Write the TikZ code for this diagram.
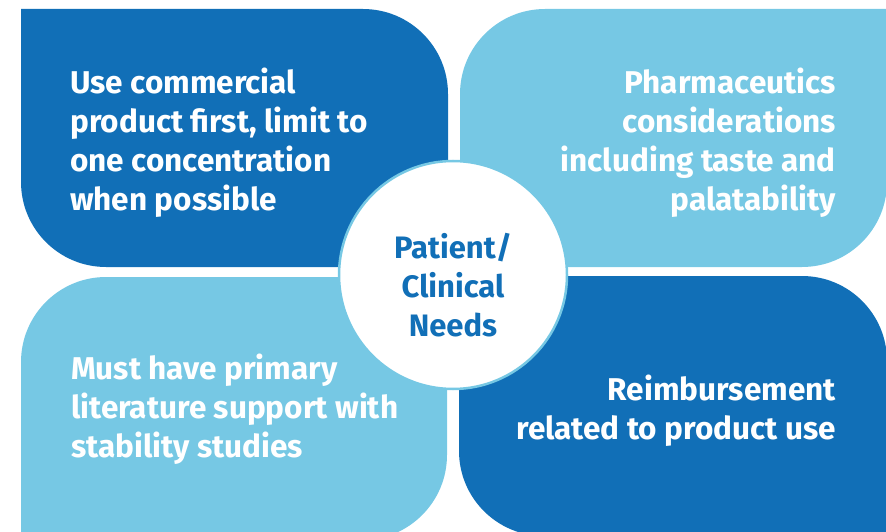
\documentclass[tikz,border=0pt]{standalone}
\usepackage{fontspec}
\setmainfont{Fira Sans}
\usetikzlibrary{
  calc
}
\definecolor{darkblue}{HTML}{116FB7}
\definecolor{lightblue}{HTML}{76C8E4}

\begin{document}
\begin{tikzpicture}[x=1pt,y=-1pt]
  \tikzstyle{box text}=[text=white, font=\bfseries\fontsize{31.5}{39}\selectfont, inner sep=0pt]
  \tikzstyle{centre text}=[text=darkblue, font=\bfseries\fontsize{31}{39}\selectfont, inner sep=0pt, align=center]

  \useasboundingbox (0,0) rectangle (886,532);
  \clip (0,0) rectangle (886,532);

  \fill [darkblue] (21,9) -- (363,9) arc[start angle=270, end angle=360, radius=85] -- (448,267) -- (106,267) arc[start angle=90, end angle=180, radius=85] -- cycle;
  \fill [lightblue] (887,9) -- (887,182) arc[start angle=0, end angle=90, radius=85] -- (460,267) -- (460,94) arc[start angle=180, end angle=270, radius=85] -- cycle;
  \fill [lightblue] (21,540) -- (21,362) arc[start angle=180, end angle=270, radius=85] -- (447,277) -- (447,455) arc[start angle=0, end angle=90, radius=85] -- cycle;
  \fill [darkblue] (887,536) -- (887,361) arc[start angle=0, end angle=-90, radius=85] -- (459,276) -- (459,451) arc[start angle=180, end angle=90, radius=85] -- cycle;

  \node [box text, anchor=north west, align=left] (TL) at (70,68) {Use commercial\\product first, limit to\\one concentration\\when possible};
  \node [box text, anchor=north east, align=right] (TR) at (836,68) {Pharmaceutics\\considerations\\including taste and\\palatability};
  \node [box text, anchor=north west, align=left] (BL) at (71,354) {Must have primary\\literature support with\\stability studies};
  \node [box text, anchor=north east, align=right] (BR) at (836,375) {Reimbursement\\related to product use};

  \node [circle, fill=white, draw=lightblue, line width=2.5pt, minimum size=228pt, inner sep=0pt] (C) at (453,275) {};
  \node [centre text] (CT) at (453,285) {Patient/\\Clinical\\Needs};

\end{tikzpicture}
\end{document}
